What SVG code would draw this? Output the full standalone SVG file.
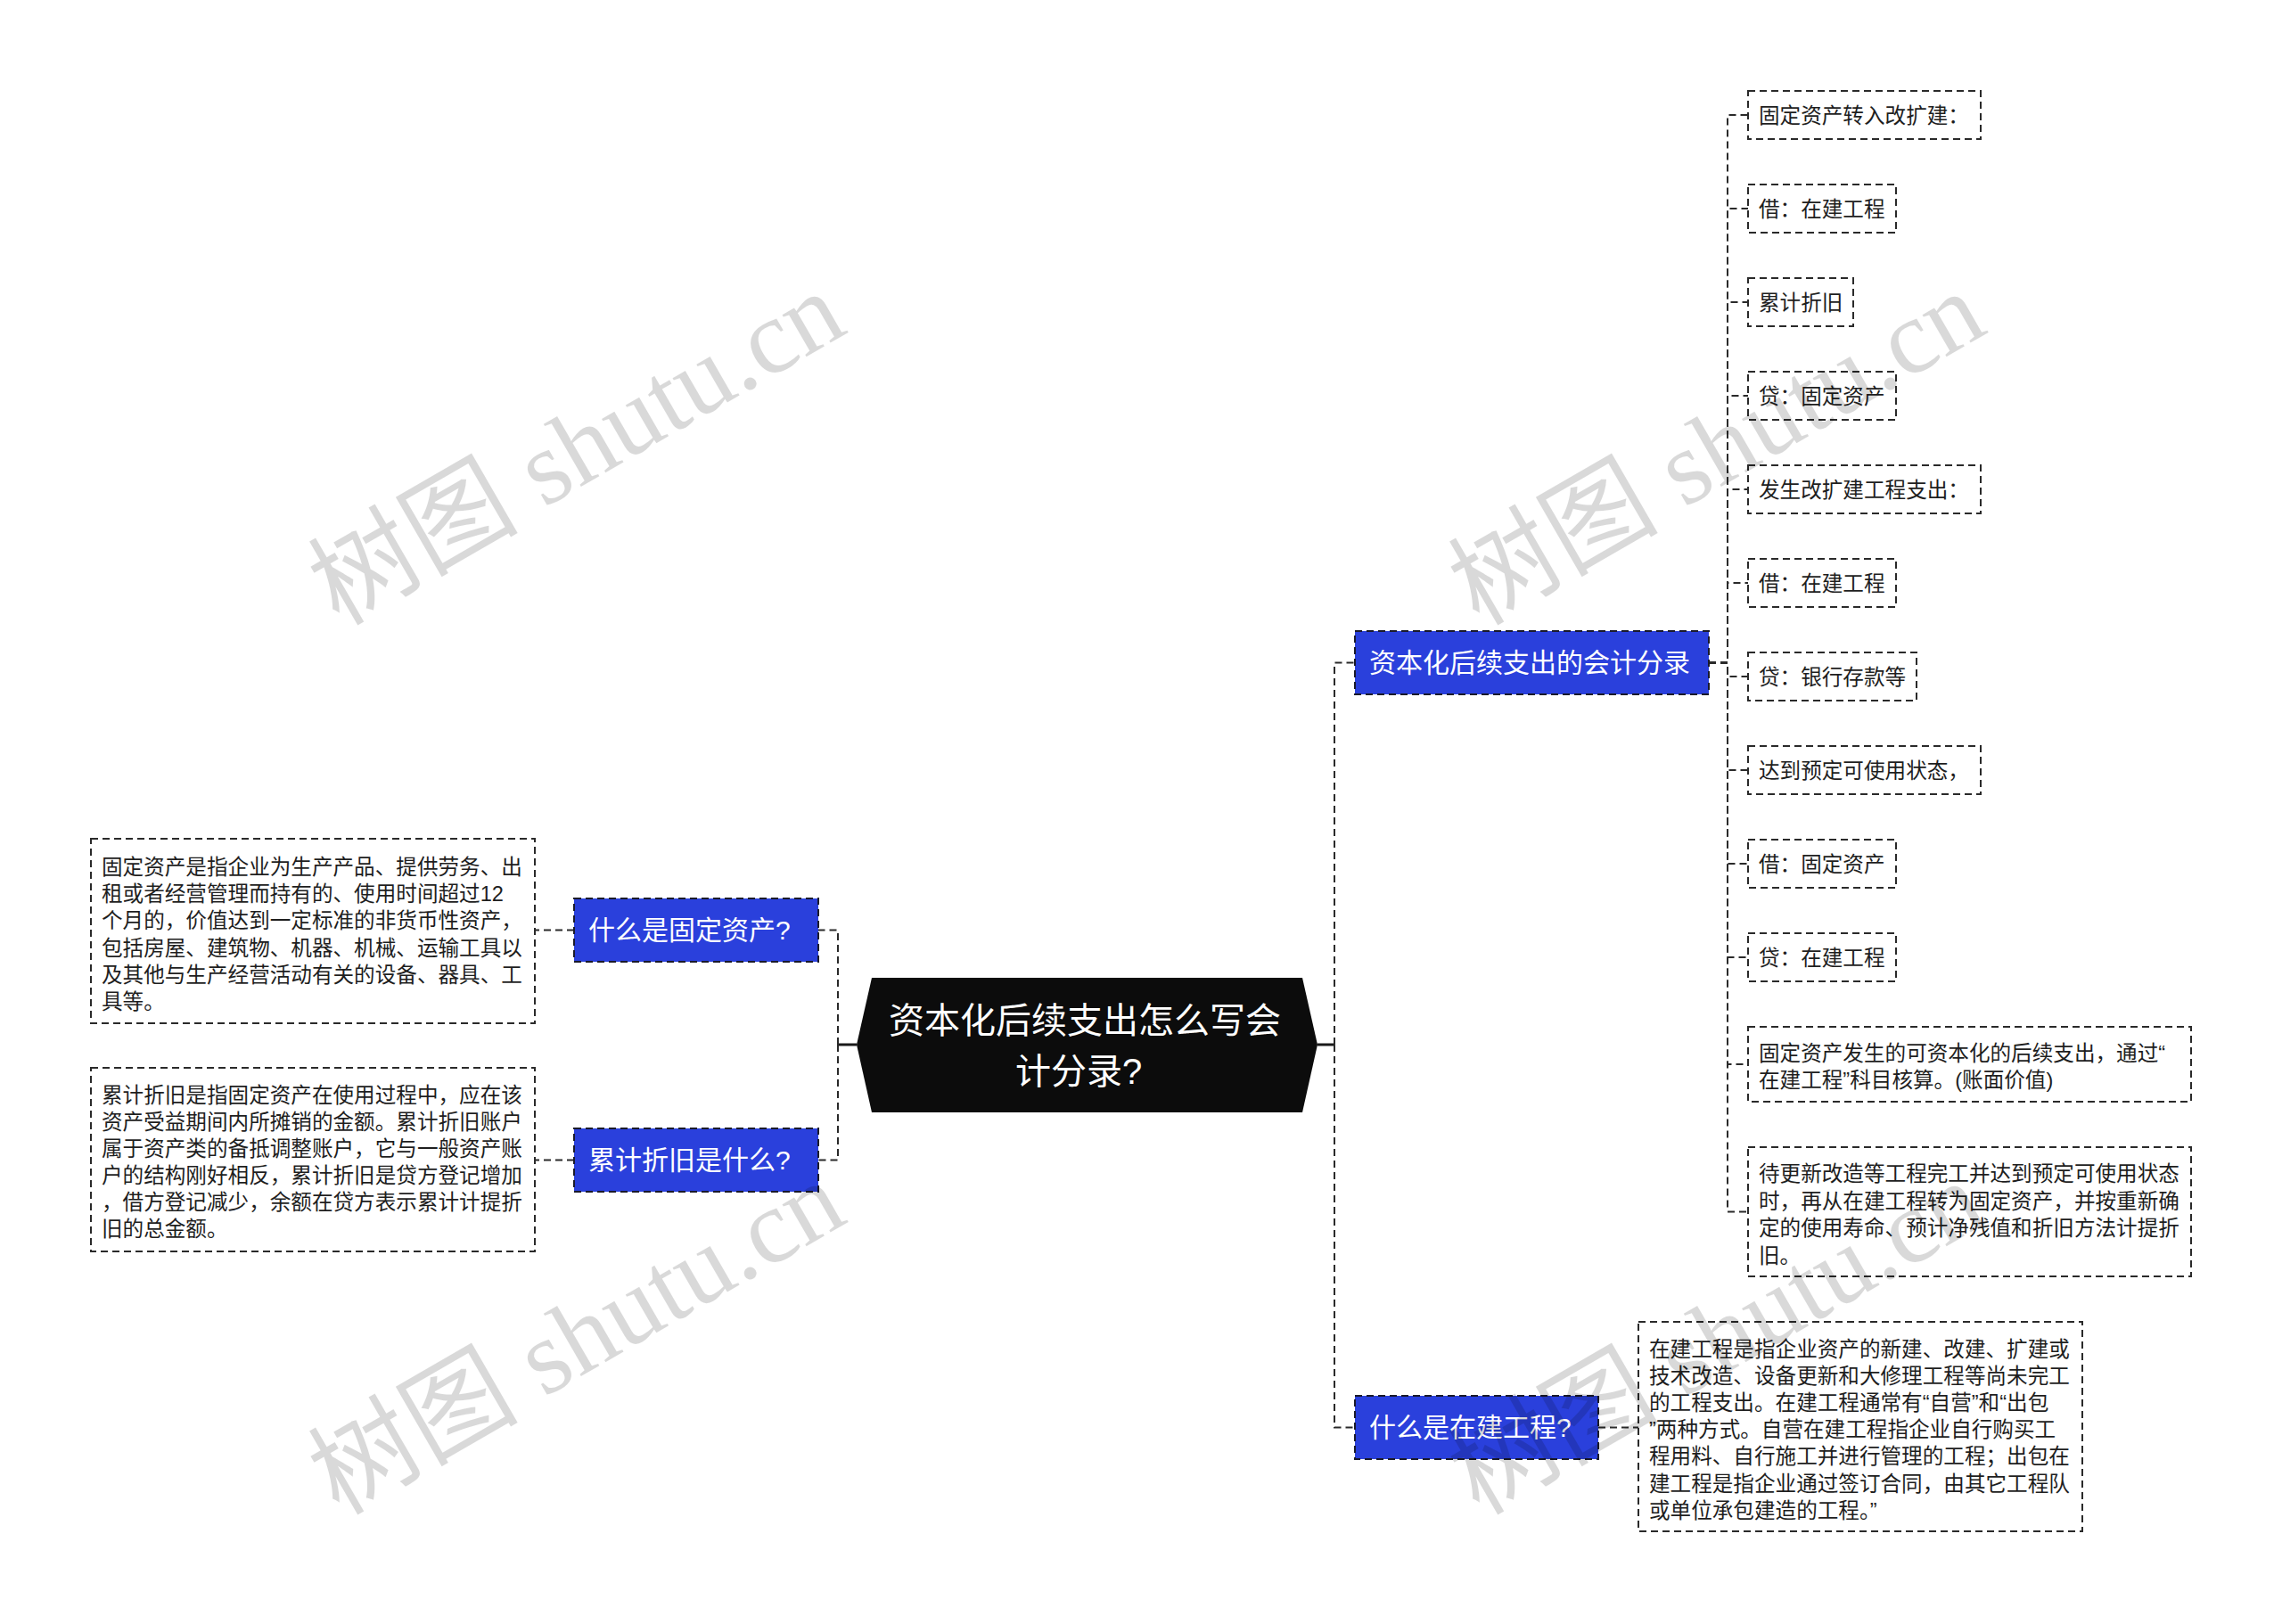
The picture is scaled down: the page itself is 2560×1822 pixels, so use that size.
<svg xmlns="http://www.w3.org/2000/svg" width="2560" height="1822" viewBox="0 0 2560 1822">
<style>
.bg{fill:#ffffff}
.conn{fill:none;stroke:#2a2a2a;stroke-width:2;stroke-dasharray:8 5}
.solid{fill:none;stroke:#1a1a1a;stroke-width:3}
.leaf{fill:#ffffff;stroke:#2a2a2a;stroke-width:2;stroke-dasharray:8 5}
.blue{fill:#2a40dc;stroke:#1a1a2a;stroke-width:2;stroke-dasharray:8 5}
.hex{fill:#0c0c0c}
.t{font-family:"Liberation Sans","Noto Sans CJK SC",sans-serif;font-size:23.6px;fill:#1e1e1e}
.bt{font-family:"Liberation Sans","Noto Sans CJK SC",sans-serif;font-size:30px;fill:#ffffff}
.ct{font-family:"Liberation Sans","Noto Sans CJK SC",sans-serif;font-size:40px;fill:#ffffff}
.wm{font-family:"Liberation Serif","Noto Sans CJK SC",serif;font-size:118px;fill:#000000;fill-opacity:0.15}
</style>
<rect class="bg" x="0" y="0" width="2560" height="1822"/>
<g id="connectors">
<path class="solid" d="M961 1172 H940"/>
<path class="conn" d="M940 1172 V1043.5 H918"/>
<path class="conn" d="M940 1172 V1301.5 H918"/>
<path class="conn" d="M644 1043.5 H600"/>
<path class="conn" d="M644 1301.5 H600"/>
<path class="solid" d="M1478 1172 H1497"/>
<path class="conn" d="M1497 1172 V743.5 H1520"/>
<path class="conn" d="M1497 1172 V1601.5 H1520"/>
<path class="conn" d="M1793 1601.5 H1838"/>
<path class="conn" d="M1917 743.5 H1938 V129 H1961"/>
<path class="conn" d="M1917 743.5 H1938 V234 H1961"/>
<path class="conn" d="M1917 743.5 H1938 V339 H1961"/>
<path class="conn" d="M1917 743.5 H1938 V444 H1961"/>
<path class="conn" d="M1917 743.5 H1938 V549 H1961"/>
<path class="conn" d="M1917 743.5 H1938 V654 H1961"/>
<path class="conn" d="M1917 743.5 H1938 V759 H1961"/>
<path class="conn" d="M1917 743.5 H1938 V864 H1961"/>
<path class="conn" d="M1917 743.5 H1938 V969 H1961"/>
<path class="conn" d="M1917 743.5 H1938 V1074 H1961"/>
<path class="conn" d="M1917 743.5 H1938 V1194 H1961"/>
<path class="conn" d="M1917 743.5 H1938 V1359.5 H1961"/>
</g>
<g id="root">
<polygon class="hex" points="978,1097 1461,1097 1478,1172 1461,1248 978,1248 961,1172"/>
<text class="ct" x="997" y="1159">资本化后续支出怎么写会</text>
<text class="ct" x="1139" y="1216">计分录?</text>
</g>
<g id="n-gdzc">
<rect class="blue" x="644" y="1008" width="274" height="71"/>
<text class="bt" x="660" y="1054">什么是固定资产?</text>
</g>
<g id="n-gdzc-desc">
<rect class="leaf" x="102" y="941" width="498" height="207"/>
<text class="t" x="114" y="981">固定资产是指企业为生产产品、提供劳务、出</text>
<text class="t" x="114" y="1011.2">租或者经营管理而持有的、使用时间超过12</text>
<text class="t" x="114" y="1041.4">个月的，价值达到一定标准的非货币性资产，</text>
<text class="t" x="114" y="1071.6">包括房屋、建筑物、机器、机械、运输工具以</text>
<text class="t" x="114" y="1101.8">及其他与生产经营活动有关的设备、器具、工</text>
<text class="t" x="114" y="1132">具等。</text>
</g>
<g id="n-ljzj">
<rect class="blue" x="644" y="1266" width="274" height="71"/>
<text class="bt" x="660" y="1312">累计折旧是什么?</text>
</g>
<g id="n-ljzj-desc">
<rect class="leaf" x="102" y="1198" width="498" height="206"/>
<text class="t" x="114" y="1237">累计折旧是指固定资产在使用过程中，应在该</text>
<text class="t" x="114" y="1267">资产受益期间内所摊销的金额。累计折旧账户</text>
<text class="t" x="114" y="1297">属于资产类的备抵调整账户，它与一般资产账</text>
<text class="t" x="114" y="1327">户的结构刚好相反，累计折旧是贷方登记增加</text>
<text class="t" x="114" y="1357">，借方登记减少，余额在贷方表示累计计提折</text>
<text class="t" x="114" y="1387">旧的总金额。</text>
</g>
<g id="n-kjfl">
<rect class="blue" x="1520" y="708" width="397" height="71"/>
<text class="bt" x="1536" y="754">资本化后续支出的会计分录</text>
</g>
<g id="leaf-1"><rect class="leaf" x="1961" y="102" width="261" height="54"/><text class="t" x="1973" y="138">固定资产转入改扩建：</text></g>
<g id="leaf-2"><rect class="leaf" x="1961" y="207" width="166" height="54"/><text class="t" x="1973" y="243">借：在建工程</text></g>
<g id="leaf-3"><rect class="leaf" x="1961" y="312" width="118" height="54"/><text class="t" x="1973" y="348">累计折旧</text></g>
<g id="leaf-4"><rect class="leaf" x="1961" y="417" width="166" height="54"/><text class="t" x="1973" y="453">贷：固定资产</text></g>
<g id="leaf-5"><rect class="leaf" x="1961" y="522" width="261" height="54"/><text class="t" x="1973" y="558">发生改扩建工程支出：</text></g>
<g id="leaf-6"><rect class="leaf" x="1961" y="627" width="166" height="54"/><text class="t" x="1973" y="663">借：在建工程</text></g>
<g id="leaf-7"><rect class="leaf" x="1961" y="732" width="189" height="54"/><text class="t" x="1973" y="768">贷：银行存款等</text></g>
<g id="leaf-8"><rect class="leaf" x="1961" y="837" width="261" height="54"/><text class="t" x="1973" y="873">达到预定可使用状态，</text></g>
<g id="leaf-9"><rect class="leaf" x="1961" y="942" width="166" height="54"/><text class="t" x="1973" y="978">借：固定资产</text></g>
<g id="leaf-10"><rect class="leaf" x="1961" y="1047" width="166" height="54"/><text class="t" x="1973" y="1083">贷：在建工程</text></g>
<g id="leaf-11"><rect class="leaf" x="1961" y="1152" width="497" height="84"/>
<text class="t" x="1973" y="1190">固定资产发生的可资本化的后续支出，通过“</text>
<text class="t" x="1973" y="1220">在建工程”科目核算。(账面价值)</text></g>
<g id="leaf-12"><rect class="leaf" x="1961" y="1287" width="497" height="145"/>
<text class="t" x="1973" y="1325">待更新改造等工程完工并达到预定可使用状态</text>
<text class="t" x="1973" y="1355.5">时，再从在建工程转为固定资产，并按重新确</text>
<text class="t" x="1973" y="1386">定的使用寿命、预计净残值和折旧方法计提折</text>
<text class="t" x="1973" y="1416.5">旧。</text></g>
<g id="n-zjgc">
<rect class="blue" x="1520" y="1566" width="273" height="71"/>
<text class="bt" x="1536" y="1612">什么是在建工程?</text>
</g>
<g id="n-zjgc-desc">
<rect class="leaf" x="1838" y="1483" width="498" height="235"/>
<text class="t" x="1850" y="1521.5">在建工程是指企业资产的新建、改建、扩建或</text>
<text class="t" x="1850" y="1551.7">技术改造、设备更新和大修理工程等尚未完工</text>
<text class="t" x="1850" y="1581.9">的工程支出。在建工程通常有“自营”和“出包</text>
<text class="t" x="1850" y="1612.1">”两种方式。自营在建工程指企业自行购买工</text>
<text class="t" x="1850" y="1642.3">程用料、自行施工并进行管理的工程；出包在</text>
<text class="t" x="1850" y="1672.5">建工程是指企业通过签订合同，由其它工程队</text>
<text class="t" x="1850" y="1702.7">或单位承包建造的工程。”</text>
</g>
<g id="watermarks">
<text class="wm" transform="translate(380 703) rotate(-30)">树图 shutu.cn</text>
<text class="wm" transform="translate(1659 703) rotate(-30)">树图 shutu.cn</text>
<text class="wm" transform="translate(380 1701) rotate(-30)">树图 shutu.cn</text>
<text class="wm" transform="translate(1659 1701) rotate(-30)">树图 shutu.cn</text>
</g>
</svg>
